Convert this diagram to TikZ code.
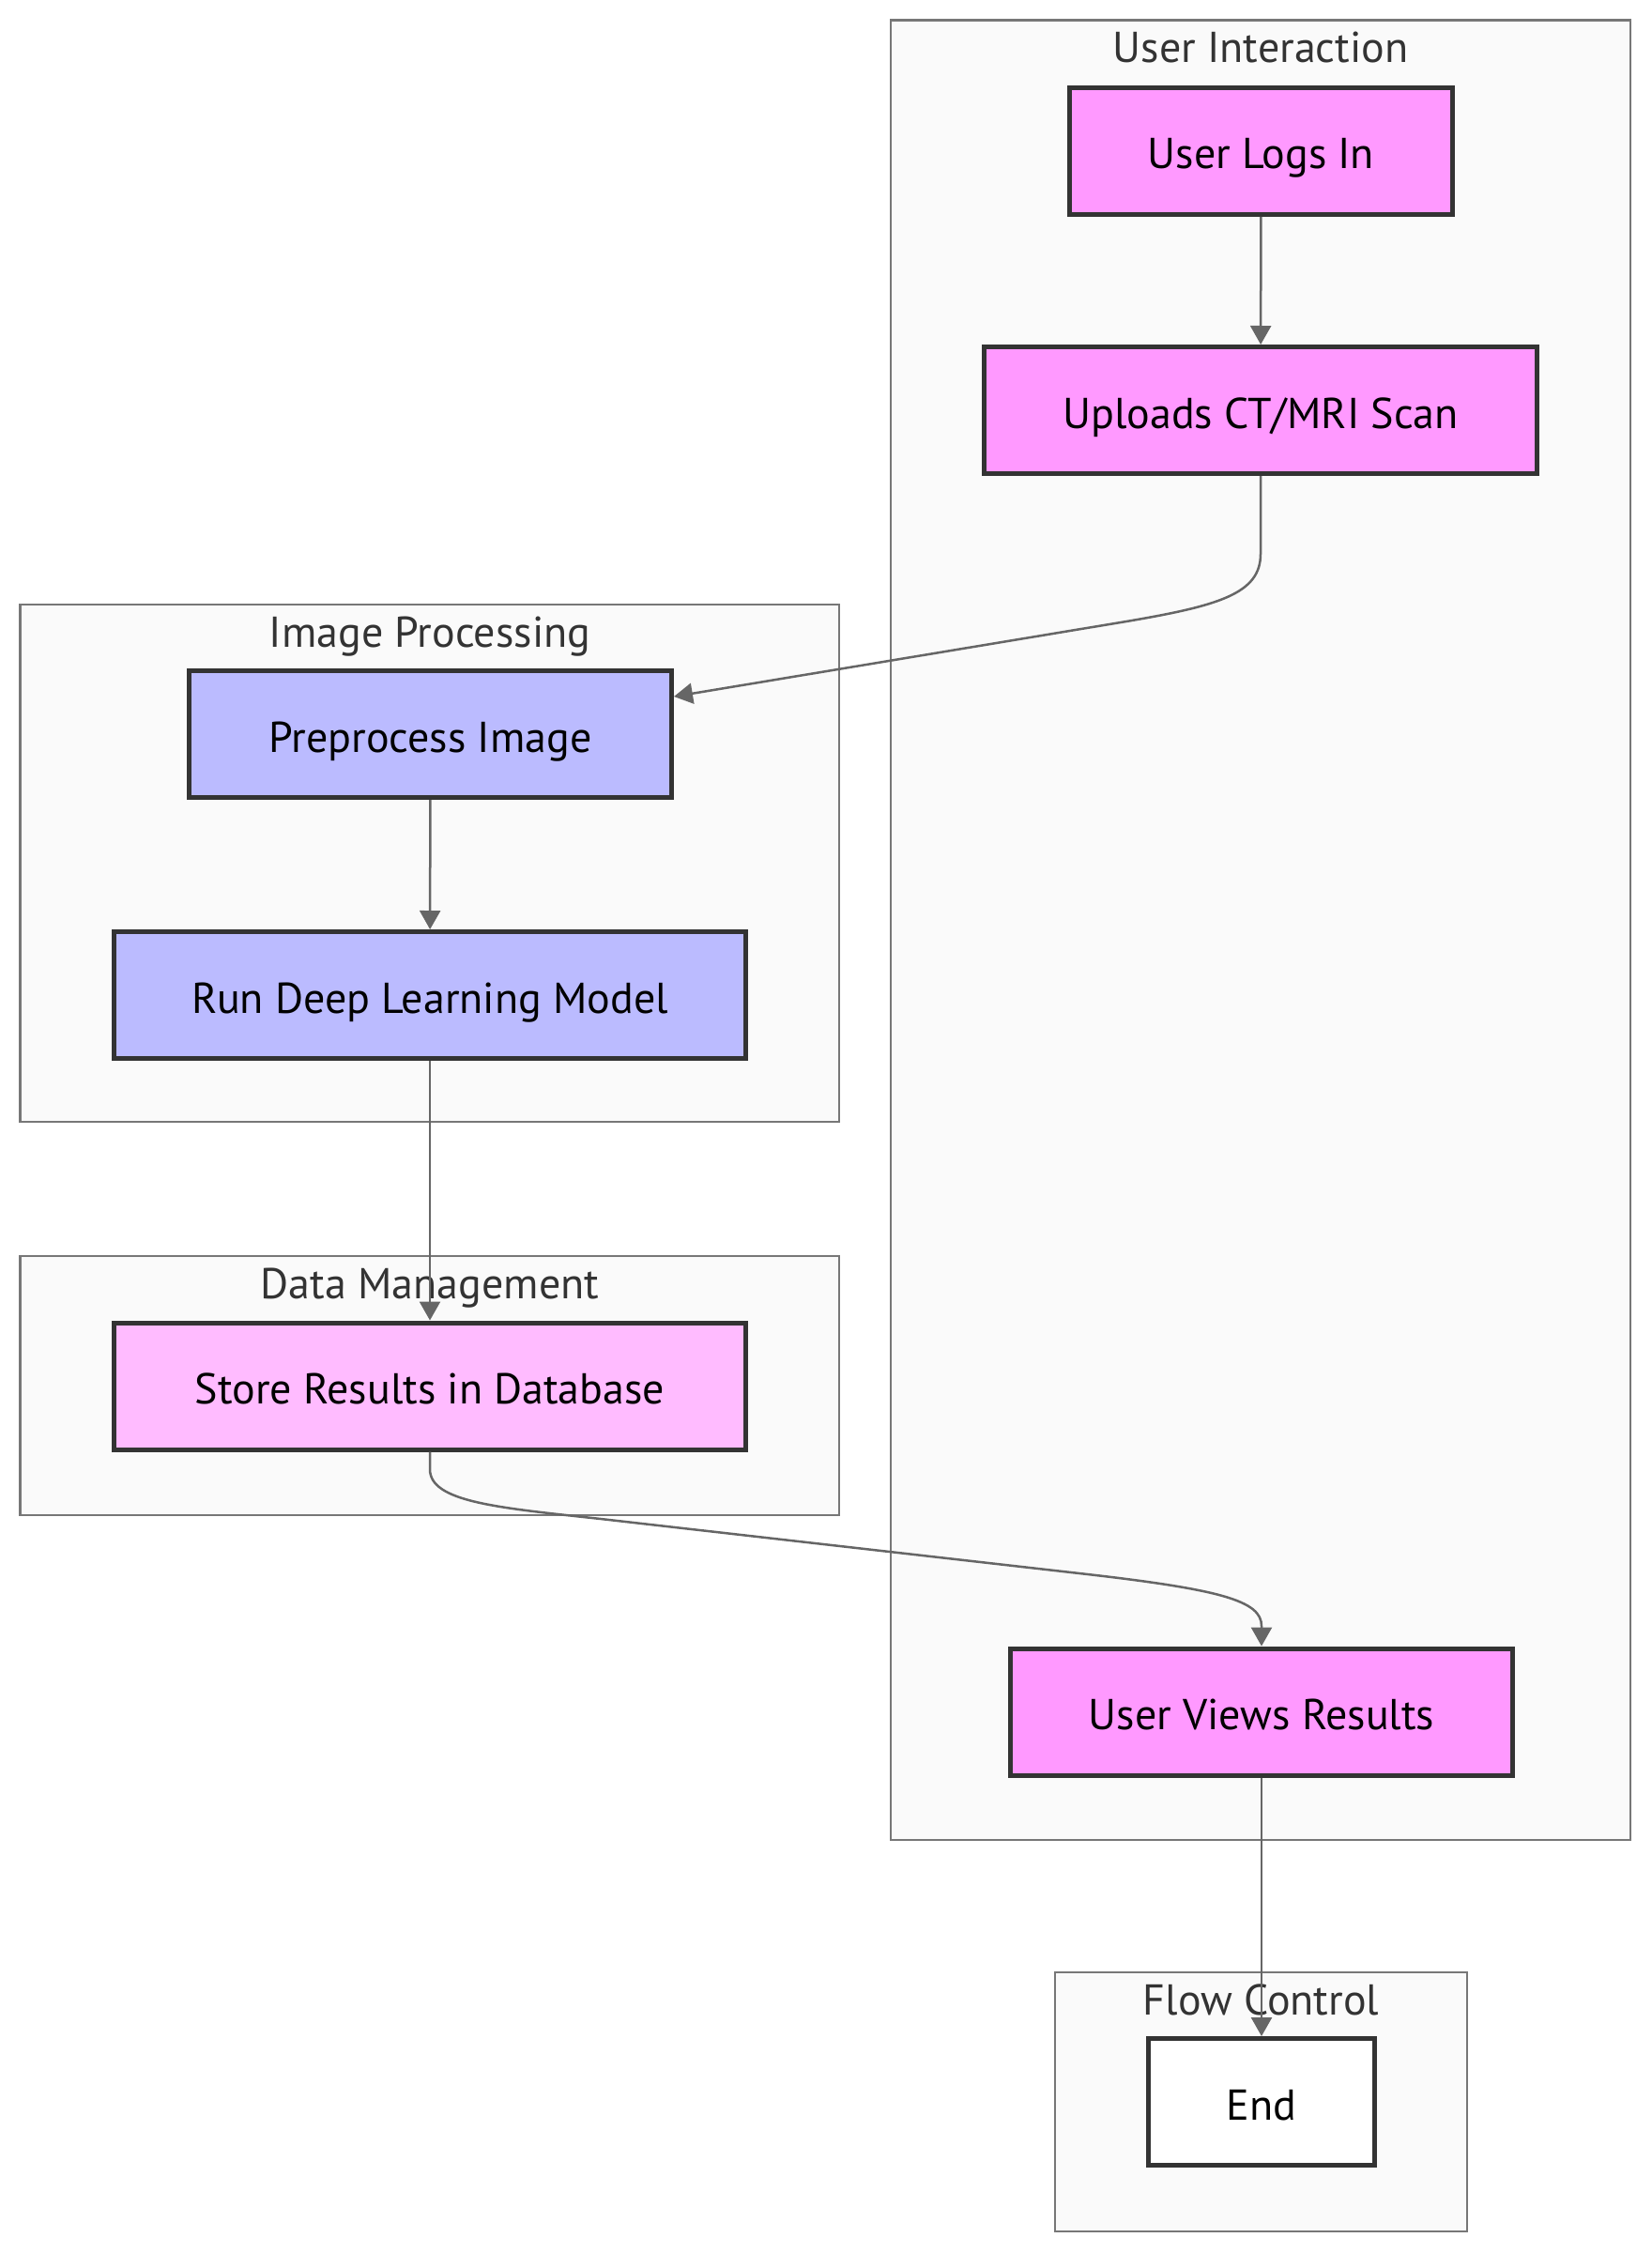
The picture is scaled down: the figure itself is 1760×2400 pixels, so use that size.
\documentclass[tikz,border=0pt]{standalone}
\usepackage{fontspec}
\setmainfont{PT Sans}
\usepackage{xcolor}
\usepackage{tikz}
\usetikzlibrary{arrows.meta,calc}

\definecolor{userpink}{HTML}{FF99FF}
\definecolor{procblue}{HTML}{BBBBFF}
\definecolor{datapink}{HTML}{FFBBFF}
\definecolor{nodeline}{HTML}{333333}
\definecolor{groupline}{HTML}{777777}
\definecolor{groupfill}{HTML}{FAFAFA}
\definecolor{edgegray}{HTML}{666666}
\definecolor{titlegray}{HTML}{333333}

\begin{document}
\begin{tikzpicture}[x=1pt,y=-1pt,
  box/.style={draw=nodeline,line width=5pt,minimum height=135pt,inner sep=0pt,
    text height=44pt,text depth=6pt,font=\fontsize{46}{54}\selectfont},
  group/.style={draw=groupline,fill=groupfill,line width=2.5pt},
  grouptitle/.style={anchor=base,text=titlegray,font=\fontsize{46}{54}\selectfont},
  edge/.style={draw=edgegray,line width=2.5pt,-{Triangle[length=20pt,width=22pt]}}]
  \useasboundingbox (0,0) rectangle (1760,2400);

  % Clusters
  \draw[group] (949,21.5) rectangle (1737,1960);
  \node[grouptitle] (tui) at (1343,66.5) {User Interaction};
  \draw[group] (21.5,644) rectangle (894,1195);
  \node[grouptitle] (tip) at (458,689) {Image Processing};
  \draw[group] (21.5,1338) rectangle (894,1614);
  \node[grouptitle] (tdm) at (458,1383) {Data Management};
  \draw[group] (1124,2101) rectangle (1563,2377);
  \node[grouptitle] (tfc) at (1343.5,2146) {Flow Control};

  % User interaction
  \node[box,fill=userpink,minimum width=408pt] (logs) at (1343.5,161) {User Logs In};
  \node[box,fill=userpink,minimum width=589pt] (upload) at (1343,437) {Uploads CT/MRI Scan};
  \node[box,fill=userpink,minimum width=535pt] (views) at (1344,1823.5) {User Views Results};

  % Image processing
  \node[box,fill=procblue,minimum width=514pt] (prep) at (458.5,782) {Preprocess Image};
  \node[box,fill=procblue,minimum width=673pt] (model) at (458,1060) {Run Deep Learning Model};

  % Data management
  \node[box,fill=datapink,minimum width=673pt] (store) at (458,1476.5) {Store Results in Database};

  % Flow control
  \node[box,fill=white,minimum width=241pt] (end) at (1344,2239) {End};

  % Edges
  \draw[edge] (logs) -- (upload);
  \draw[edge] (upload.south) -- (1343,590) .. controls (1343,632) and (1300,645) .. (1200,662)
    -- ($(prep.east)+(0,-40)$);
  \draw[edge] (prep) -- (model);
  \draw[edge] (model) -- (store);
  \draw[edge] (store.south) -- (458,1565) .. controls (458,1600) and (530,1606) .. (640,1618)
    -- (1150,1676) .. controls (1300,1693) and (1344,1705) .. (1344,1732) -- (views.north);
  \draw[edge] (views) -- (end);

\end{tikzpicture}
\end{document}
